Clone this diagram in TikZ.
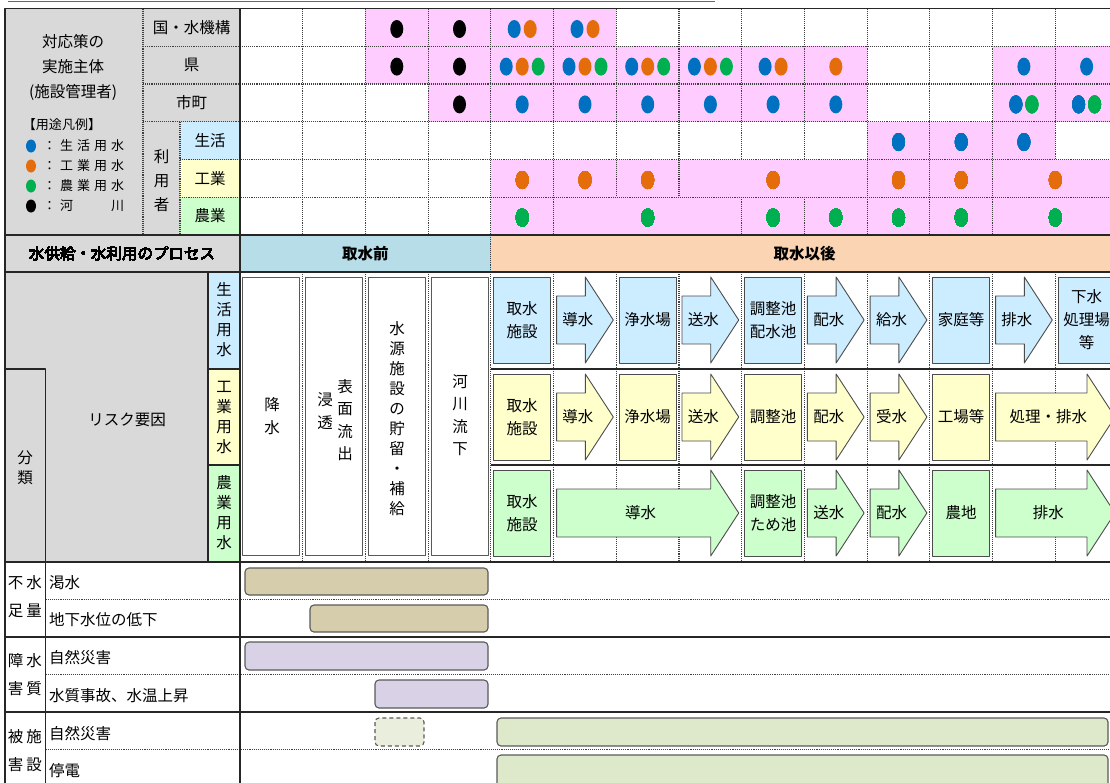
\documentclass[tikz,border=0pt]{standalone}
\usepackage{fontspec}
\setmainfont{Noto Sans CJK JP}
\definecolor{cgray}{HTML}{D9D9D9}
\definecolor{cpink}{HTML}{FFCCFF}
\definecolor{chblue}{HTML}{B7DEE8}
\definecolor{chpeach}{HTML}{FBD4B4}
\definecolor{cblue}{HTML}{CCECFF}
\definecolor{cyel}{HTML}{FFFFCC}
\definecolor{cgreen}{HTML}{CCFFCC}
\definecolor{ctan}{HTML}{D5CDAB}
\definecolor{clav}{HTML}{D9D2E6}
\definecolor{cbar}{HTML}{DEE9CC}
\definecolor{cdash}{HTML}{E9EEDD}
\definecolor{dB}{HTML}{0070C0}
\definecolor{dO}{HTML}{E46C0A}
\definecolor{dG}{HTML}{00B050}
\definecolor{dK}{HTML}{000000}
\newcommand\lc[1]{\makebox[17pt]{#1}}
\newcommand\dt[3]{\fill[#1] (#2,#3) ellipse (6.5 and 9);}
\newcommand\pbx[5]{\node[pbox,fill=#4] (#1) at (#2,#3) {#5};}
\newcommand\parw[6]{%
  \filldraw[parrow,fill=#5] (#2,#4-24) -- (#3-28,#4-24) -- (#3-28,#4-43) -- (#3,#4) -- (#3-28,#4+43) -- (#3-28,#4+24) -- (#2,#4+24) -- cycle;
  \node[lbl] (#1) at ({(#2+#3)/2-7},#4) {#6};}
\begin{document}
\begin{tikzpicture}[x=1pt,y=-1pt,line join=round,
  frm/.style={line width=1.5pt,black!85},
  dotl/.style={line width=1.1pt,black!75,densely dotted},
  pbox/.style={draw=black!70,line width=0.9pt,minimum width=57pt,minimum height=86pt,inner sep=0pt,align=center,font=\fontsize{15.5}{23}\selectfont},
  tbox/.style={draw=black!65,fill=white,line width=0.9pt,minimum width=57pt,minimum height=278pt,inner sep=0pt},
  parrow/.style={draw=black!70,line width=0.9pt},
  lbl/.style={inner sep=0pt,align=center,font=\fontsize{15.5}{23}\selectfont},
  vtx/.style={inner sep=0pt,align=center,font=\fontsize{15.5}{20}\selectfont},
  vtxw/.style={inner sep=0pt,align=center,font=\fontsize{15.5}{22.5}\selectfont},
  hdr/.style={inner sep=0pt,font=\fontsize{15.5}{20}\selectfont\bfseries},
  lgd/.style={inner sep=0pt,anchor=west,font=\fontsize{13}{16}\selectfont},
  bar/.style={draw=black!65,line width=1.1pt,rounded corners=4pt}]
\useasboundingbox (0,0) rectangle (1110,782);
\clip (0,0) rectangle (1110,782);
% ---------- fills
\fill[cgray] (5,8.5) rectangle (240,272);
\fill[cblue] (180,121.7) rectangle (240,159.5);
\fill[cyel] (180,159.5) rectangle (240,197.2);
\fill[cgreen] (180,197.2) rectangle (240,235);
\fill[cgray] (5,272) rectangle (208,562);
\fill[cblue] (208,272) rectangle (240,369);
\fill[cyel] (208,369) rectangle (240,465);
\fill[cgreen] (208,465) rectangle (240,562);
\fill[chblue] (240,235) rectangle (490.9,272);
\fill[chpeach] (490.9,235) rectangle (1118,272);
\fill[cpink] (365.4,8.5) rectangle (616.3,46.2);
\fill[cpink] (365.4,46.2) rectangle (867.1,84);
\fill[cpink] (992.6,46.2) rectangle (1118,84);
\fill[cpink] (428.1,84) rectangle (867.1,121.7);
\fill[cpink] (992.6,84) rectangle (1118,121.7);
\fill[cpink] (867.1,121.7) rectangle (1055.3,159.5);
\fill[cpink] (490.9,159.5) rectangle (1118,235);
% ---------- dotted lines
\foreach \x in {302.7,365.4,428.1,490.9,553.6,616.3,679,741.7,804.4,867.1,929.9,992.6,1055.3}
  {\draw[dotl] (\x,8.5) -- (\x,159.5); \draw[dotl] (\x,272) -- (\x,562);}
\foreach \x in {302.7,365.4,428.1,490.9,553.6,616.3,679,867.1,929.9,992.6}
  \draw[dotl] (\x,159.5) -- (\x,197.2);
\foreach \x in {302.7,365.4,428.1,490.9,553.6,741.7,804.4,867.1,929.9,992.6}
  \draw[dotl] (\x,197.2) -- (\x,235);
\foreach \y in {46.2,84,121.7} \draw[dotl] (143,\y) -- (1118,\y);
\foreach \y in {159.5,197.2} \draw[dotl] (180,\y) -- (1118,\y);
\draw[dotl] (143,8.5) -- (143,235);
\draw[dotl] (180,121.7) -- (180,235);
\draw[dotl] (490.9,235) -- (490.9,272);
\foreach \y in {599.5,674.5,749.5} \draw[dotl] (45.7,\y) -- (1118,\y);
% ---------- solid lines
\draw[black!60,line width=1.2pt] (8,1.5) -- (715,1.5);
\draw[frm] (1118,8.5) -- (5,8.5) -- (5,790);
\draw[frm] (240,8.5) -- (240,790);
\foreach \y in {235,272,562,637,712} \draw[frm] (5,\y) -- (1118,\y);
\draw[frm] (208,272) -- (208,562);
\draw[frm] (5,369) -- (45.7,369) -- (45.7,790);
\foreach \y in {369,465} {\draw[frm] (208,\y) -- (240,\y); \draw[frm] (490.9,\y) -- (1118,\y);}
% ---------- top-left texts
\node[lbl,font=\fontsize{15.5}{25}\selectfont] (taio) at (73,67) {対応策の\\実施主体\\(施設管理者)};
\node[lbl,font=\fontsize{13}{16}\selectfont] (hanrei) at (62,125) {【用途凡例】};
\fill[dB] (31,146) ellipse (5 and 6.5);
\fill[dO] (31,166) ellipse (5 and 6.5);
\fill[dG] (31,186) ellipse (5 and 6.5);
\fill[dK] (31,206) ellipse (5 and 6.5);
\node[lgd] (lg1) at (41,146) {\lc{：}\lc{生}\lc{活}\lc{用}\lc{水}};
\node[lgd] (lg2) at (41,166) {\lc{：}\lc{工}\lc{業}\lc{用}\lc{水}};
\node[lgd] (lg3) at (41,186) {\lc{：}\lc{農}\lc{業}\lc{用}\lc{水}};
\node[lgd] (lg4) at (41,206) {\lc{：}\lc{河}\lc{}\lc{}\lc{川}};
\node[lbl] (kuni) at (191.5,27.4) {国・水機構};
\node[lbl] (ken) at (191.5,65.1) {県};
\node[lbl] (shi) at (191.5,102.9) {市町};
\node[vtx,font=\fontsize{15.5}{24}\selectfont] (riyo) at (161.5,181) {利\\用\\者};
\node[lbl] (u1) at (210,140.6) {生活};
\node[lbl] (u2) at (210,178.4) {工業};
\node[lbl] (u3) at (210,216.1) {農業};
% ---------- dots
\dt{dK}{396.8}{29}\dt{dK}{459.5}{29}\dt{dB}{577}{29}\dt{dO}{593}{29}\dt{dB}{514.2}{29}\dt{dO}{530.2}{29}
\dt{dK}{396.8}{66.6}\dt{dK}{459.5}{66.6}
\foreach \c in {522.2,585,647.7,710.4} {\dt{dB}{\c-16}{66.6}\dt{dO}{\c}{66.6}\dt{dG}{\c+16}{66.6}}
\dt{dB}{765.1}{66.6}\dt{dO}{781.1}{66.6}\dt{dO}{835.8}{66.6}\dt{dB}{1023.9}{66.6}\dt{dB}{1086.6}{66.6}
\dt{dK}{459.5}{104.4}
\foreach \c in {522.2,585,647.7,710.4,773.1,835.8} \dt{dB}{\c}{104.4}
\dt{dB}{1015.9}{104.4}\dt{dG}{1031.9}{104.4}\dt{dB}{1078.6}{104.4}\dt{dG}{1094.6}{104.4}
\foreach \c in {898.5,961.2,1023.9} \dt{dB}{\c}{142}
\foreach \c in {522.2,585,647.7,773.1,898.5,961.2,1055.3} \dt{dO}{\c}{180}
\foreach \c in {522.2,647.7,773.1,835.8,898.5,961.2,1055.3} \dt{dG}{\c}{217.6}
% ---------- header row
\node[lbl] (proc) at (122,253.5) {水供給・水利用のプロセス};
\node[hdr] (mae) at (365.4,253.5) {取水前};
\node[hdr] (ato) at (804.5,253.5) {取水以後};
% ---------- process left
\node[lbl] (risk) at (127,420) {リスク要因};
\node[vtx] (bunrui) at (25,468) {分\\類};
\node[vtx] (yo1) at (224,320) {生\\活\\用\\水};
\node[vtx] (yo2) at (224,417) {工\\業\\用\\水};
\node[vtx] (yo3) at (224,513) {農\\業\\用\\水};
% ---------- before intake
\node[tbox] (tb1) at (271.4,416) {};
\node[tbox] (tb2) at (334,416) {};
\node[tbox] (tb3) at (396.8,416) {};
\node[tbox] (tb4) at (459.5,416) {};
\node[vtxw] (t1) at (272,416) {降\\水};
\node[vtxw] (t2a) at (345,420) {表\\面\\流\\出};
\node[vtxw] (t2b) at (325,411) {浸\\透};
\node[vtx] (t3) at (397,419) {水\\源\\施\\設\\の\\貯\\留\\・\\補\\給};
\node[vtxw] (t4) at (460,415) {河\\川\\流\\下};
% ---------- after intake: domestic
\pbx{a1}{522.2}{320}{cblue}{取水\\施設}
\parw{a2}{556.6}{613.3}{320}{cblue}{導水}
\pbx{a3}{647.7}{320}{cblue}{浄水場}
\parw{a4}{682}{738.7}{320}{cblue}{送水}
\pbx{a5}{773.1}{320}{cblue}{調整池\\配水池}
\parw{a6}{807.4}{864.1}{320}{cblue}{配水}
\parw{a7}{870.1}{926.9}{320}{cblue}{給水}
\pbx{a8}{961.2}{320}{cblue}{家庭等}
\parw{a9}{995.6}{1052.3}{320}{cblue}{排水}
\pbx{a10}{1086.6}{320}{cblue}{下水\\処理場\\等}
% industrial
\pbx{b1}{522.2}{417}{cyel}{取水\\施設}
\parw{b2}{556.6}{613.3}{417}{cyel}{導水}
\pbx{b3}{647.7}{417}{cyel}{浄水場}
\parw{b4}{682}{738.7}{417}{cyel}{送水}
\pbx{b5}{773.1}{417}{cyel}{調整池}
\parw{b6}{807.4}{864.1}{417}{cyel}{配水}
\parw{b7}{870.1}{926.9}{417}{cyel}{受水}
\pbx{b8}{961.2}{417}{cyel}{工場等}
\parw{b9}{995.6}{1115}{417}{cyel}{処理・排水}
% agricultural
\pbx{g1}{522.2}{513}{cgreen}{取水\\施設}
\parw{g2}{556.6}{738.7}{513}{cgreen}{導水}
\pbx{g3}{773.1}{513}{cgreen}{調整池\\ため池}
\parw{g4}{807.4}{864.1}{513}{cgreen}{送水}
\parw{g5}{870.1}{926.9}{513}{cgreen}{配水}
\pbx{g6}{961.2}{513}{cgreen}{農地}
\parw{g7}{995.6}{1115}{513}{cgreen}{排水}
% ---------- risk section
\node[lbl,font=\fontsize{15.5}{28}\selectfont] (k1) at (25,597) {不\hspace{3pt}水\\足\hspace{3pt}量};
\node[lbl,font=\fontsize{15.5}{28}\selectfont] (k2) at (25,675) {障\hspace{3pt}水\\害\hspace{3pt}質};
\node[lbl,font=\fontsize{15.5}{28}\selectfont] (k3) at (25,751) {被\hspace{3pt}施\\害\hspace{3pt}設};
\node[lbl,anchor=west] (r1) at (49,583) {渇水};
\node[lbl,anchor=west] (r2) at (49,620) {地下水位の低下};
\node[lbl,anchor=west] (r3) at (49,658) {自然災害};
\node[lbl,anchor=west] (r4) at (49,696) {水質事故、水温上昇};
\node[lbl,anchor=west] (r5) at (49,734) {自然災害};
\node[lbl,anchor=west] (r6) at (49,771) {停電};
\draw[bar,fill=ctan] (245,568) rectangle (488,595);
\draw[bar,fill=ctan] (310,605) rectangle (488,632);
\draw[bar,fill=clav] (245,642) rectangle (488,670);
\draw[bar,fill=clav] (375,680) rectangle (488,708);
\draw[bar,fill=cdash,dash pattern=on 4pt off 3pt] (375,718) rectangle (424,746);
\draw[bar,fill=cbar] (497,718) rectangle (1108,746);
\draw[bar,fill=cbar] (497,755) rectangle (1108,792);
\end{tikzpicture}
\end{document}
